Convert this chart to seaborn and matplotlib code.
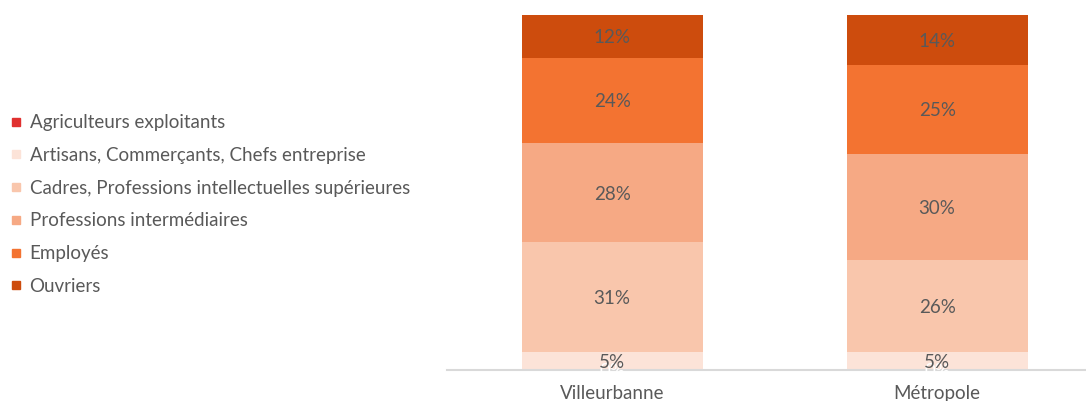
import numpy as np
import pandas as pd
import matplotlib.pyplot as plt
import seaborn as sns
from matplotlib.lines import Line2D

# Data (share of each socio-professional category, in %)
territoires = ['Villeurbanne', 'Métropole']
categories = ['Agriculteurs exploitants',
              'Artisans, Commerçants, Chefs entreprise',
              'Cadres, Professions intellectuelles supérieures',
              'Professions intermédiaires',
              'Employés',
              'Ouvriers']
villeurbanne = [0, 5, 31, 28, 24, 12]
metropole = [0, 5, 26, 30, 25, 14]
couleurs = ['#E0302F', '#FCE3D8', '#F9C6AC', '#F6A984', '#F37331', '#CD4C0D']

sns.set_style('white')
plt.rcParams['font.family'] = ['Lato', 'DejaVu Sans']

df = pd.DataFrame({'Villeurbanne': villeurbanne, 'Métropole': metropole}, index=categories)
cumul = df.cumsum()

fig = plt.figure(figsize=(10.86, 4.01), dpi=100)
ax = fig.add_axes([0.4116, 0.0773, 0.5884, 0.885])

# stacked bars: draw cumulative totals from the top category down
for cat, col in zip(categories[::-1], couleurs[::-1]):
    tmp = pd.DataFrame({'territoire': territoires, 'valeur': cumul.loc[cat, territoires].values})
    sns.barplot(data=tmp, x='territoire', y='valeur', color=col, width=0.557,
                saturation=1, ax=ax, linewidth=0)

# data labels centred in each segment
for i, terr in enumerate(territoires):
    for cat in categories:
        v = df.loc[cat, terr]
        centre = cumul.loc[cat, terr] - v / 2
        ax.text(i, centre, f'{v}%', ha='center', va='center_baseline', fontsize=13.5,
                color='white' if v == 0 else '#595959')

ax.set_xlim(-0.508, 1.458)
ax.set_ylim(0, 100)
ax.set_xlabel('')
ax.set_ylabel('')
ax.set_yticks([])
ax.tick_params(axis='x', length=0, labelsize=13.5, labelcolor='#595959', pad=11)
for s in ['top', 'right', 'left']:
    ax.spines[s].set_visible(False)
ax.spines['bottom'].set_color('#D9D9D9')
ax.spines['bottom'].set_linewidth(1.5)

handles = [Line2D([0], [0], marker='s', linestyle='none', markersize=6,
                  markerfacecolor=c, markeredgecolor=c) for c in couleurs]
fig.legend(handles, categories, loc='upper left', bbox_to_anchor=(0.003, 0.734),
           frameon=False, fontsize=13.5, labelcolor='#595959', handlelength=0.6,
           handletextpad=0.4, labelspacing=0.84, borderaxespad=0)

fig.savefig('out.png', dpi=100)
